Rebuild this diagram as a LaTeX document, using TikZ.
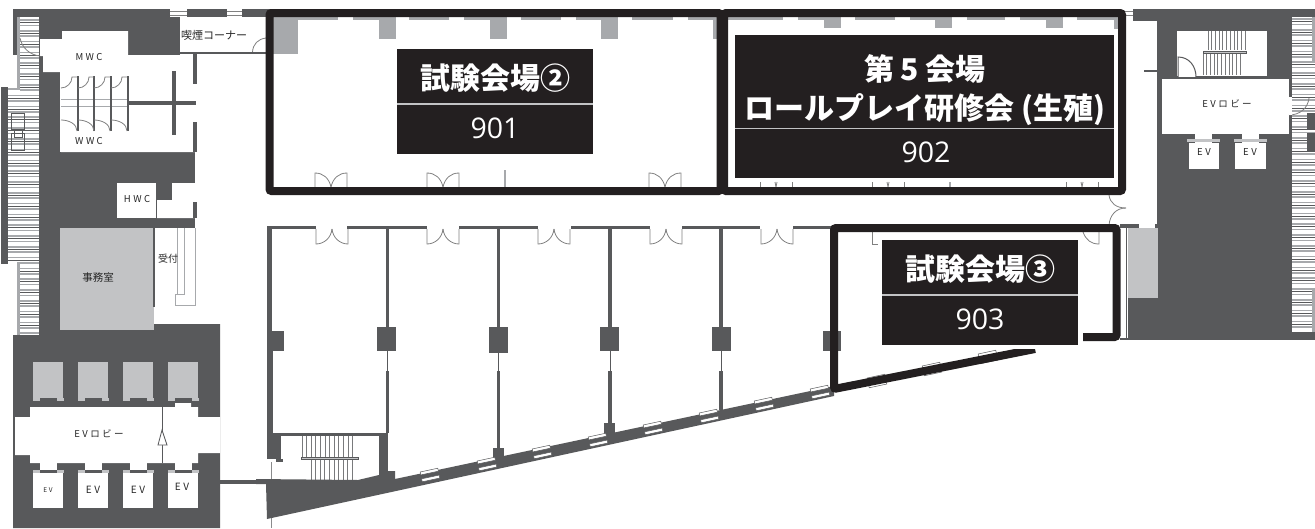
\documentclass[tikz,border=0pt]{standalone}
\usepackage{fontspec}
\setmainfont{Noto Sans CJK JP}
\newfontfamily\planfont[LetterSpace=26]{Noto Sans CJK JP}
\newfontfamily\numberfont{Open Sans}
\definecolor{wallgray}{HTML}{58595B}
\definecolor{roomgray}{HTML}{C2C3C5}
\definecolor{pillargray}{HTML}{A7A9AC}
\definecolor{signblack}{HTML}{231F20}

\begin{document}
\begin{tikzpicture}[x=1pt, y=-1pt]
    \tikzset{
        wall/.style={wallgray, line width=3.6},
        thinwall/.style={wallgray!70, line width=0.8},
        doorline/.style={gray, line width=0.8},
        venuebox/.style={signblack, line width=8, rounded corners=2},
        signtitle/.style={text=white, font=\bfseries\fontsize{30}{38.5}\selectfont, align=center},
        signnumber/.style={text=white, font=\numberfont\fontsize{28.5}{34}\selectfont},
        planlabel/.style={text=black!85, font=\planfont\fontsize{#1}{#1}\selectfont},
        planlabel/.default=9
    }
    \useasboundingbox (0, 0) rectangle (1315, 528);

    % solid parts of the floor
    \fill[wallgray] (13, 9) rectangle (180, 55);
    \fill[wallgray] (180, 9) rectangle (270, 17);
    \fill[wallgray] (39, 17) rectangle (60, 335);
    \fill[wallgray] (60, 152) rectangle (195, 228);
    \fill[wallgray] (13, 335) -- (60, 335) -- (60, 330) -- (154, 330) -- (154, 324) -- (220, 324)
        -- (220, 528) -- (13, 528) -- cycle;
    \fill[wallgray] (1133, 9) rectangle (1315, 17);
    \fill[wallgray] (1157, 17) rectangle (1292, 332);
    \fill[wallgray] (1133, 17) rectangle (1157, 21);
    \fill[wallgray] (1128, 298) rectangle (1157, 340);
    \fill[wallgray] (1157, 332) rectangle (1315, 340);

    % rooms left open in them
    \fill[white] (40, 39) -- (62, 39) -- (62, 31) -- (128, 31) -- (128, 55) -- (195, 55) -- (195, 152)
        -- (61, 152) -- (61, 72) -- (43, 72) -- (43, 56) -- (40, 56) -- cycle;
    \fill[white] (180, 18) rectangle (266, 52);
    \fill[white] (117, 183) rectangle (156, 218);
    \fill[white] (157, 200) -- (172, 200) -- (172, 183) -- (195, 183) -- (195, 218) -- (157, 218) -- cycle;
    \fill[roomgray] (60, 228) rectangle (154, 330);
    \fill[white] (15, 417) -- (30, 417) -- (30, 407) -- (175, 407) -- (175, 403) -- (191, 403)
        -- (191, 407) -- (198, 407) -- (198, 417) -- (220, 417) -- (220, 453) -- (198, 453)
        -- (198, 463) -- (30, 463) -- (30, 455) -- (15, 455) -- cycle;
    \fill[white] (1177, 31) rectangle (1267, 76);
    \fill[white] (1162, 79) rectangle (1289, 134);
    \fill[white] (1189, 143) rectangle (1219, 169);
    \fill[white] (1235, 143) rectangle (1266, 169);
    \fill[white] (1195, 134) rectangle (1212, 143);
    \fill[white] (1242, 134) rectangle (1259, 143);
    \fill[roomgray] (1128, 228) rectangle (1158, 298);

    % lift shafts
    \foreach \x in {33, 78, 123, 168} {
        \fill[roomgray] (\x, 362) rectangle (\x+30, 398);
        \fill[white] (\x, 473) rectangle (\x+30, 508);
        \fill[white] (\x+7, 463) rectangle (\x+24, 470);
        \fill[roomgray] (\x, 398) rectangle (\x+7, 401);
        \fill[roomgray] (\x+24, 398) rectangle (\x+31, 401);
        \fill[roomgray] (\x, 470) rectangle (\x+7, 473);
        \fill[roomgray] (\x+24, 470) rectangle (\x+31, 473);
    }
    \foreach \x in {1188, 1235} {
        \fill[roomgray] (\x-1, 139) rectangle (\x+32, 142);
    }

    % outer stair hatching
    \fill[white] (20, 17) rectangle (39, 335);
    \fill[white] (8, 90) rectangle (39, 262);
    \fill[white] (1292, 17) rectangle (1315, 332);
    \foreach \y in {20, 25.4, ..., 334} {
        \draw[pillargray, line width=1.6] (20, \y) -- (39, \y);
    }
    \foreach \y in {22.7, 33.5, ..., 334} {
        \draw[wallgray, line width=1] (20, \y) -- (39, \y);
    }
    \foreach \y in {95.6, 101, ..., 262} {
        \draw[pillargray, line width=1.6] (8, \y) -- (20, \y);
    }
    \foreach \y in {98.3, 109.1, ..., 262} {
        \draw[wallgray, line width=1] (8, \y) -- (20, \y);
    }
    \foreach \y in {19, 24.4, ..., 332} {
        \draw[pillargray, line width=1.6] (1292, \y) -- (1315, \y);
    }
    \foreach \y in {21.7, 32.5, ..., 332} {
        \draw[wallgray, line width=1] (1292, \y) -- (1315, \y);
    }
    \fill[pillargray] (1312, 17) rectangle (1315, 62);
    \fill[pillargray] (1312, 290) rectangle (1315, 332);
    \fill[pillargray] (17, 17) rectangle (20, 90);
    \fill[pillargray] (8, 88) rectangle (20, 90);
    \fill[wallgray] (1, 87) rectangle (8, 264);
    \fill[pillargray] (17, 262) rectangle (20, 335);
    \foreach \a/\b in {113/129, 133/150} {
        \draw[wallgray, line width=0.7] (11, \a) rectangle (24, \b);
        \draw[fill=white, wallgray, line width=0.7] (1307, \a) rectangle (1315, \b);
    }
    \draw[wallgray, line width=0.7] (14, 129) rectangle (22, 137);

    % top windows
    \foreach \x/\w in {170/17, 227/15, 1125/8} {
        \fill[white] (\x, 9) rectangle (\x+\w, 17);
        \draw[gray, line width=1] (\x, 11) -- (\x+\w, 11);
        \draw[gray, line width=1] (\x, 15) -- (\x+\w, 15);
    }

    % toilets
    \draw[wall] (195, 54) -- (195, 84);
    \draw[wall] (195, 122) -- (195, 152);
    \draw[wall] (195, 202) -- (195, 218);
    \draw[wall] (128, 103) -- (196, 103);
    \draw[wall, line width=3.8] (174, 71) -- (174, 135);
    \draw[pillargray, line width=1] (61, 99) -- (128, 99);
    \draw[pillargray, line width=1] (61, 106) -- (128, 106);
    \foreach \x in {78, 94, 111, 128} {
        \draw[wallgray, line width=2] (\x, 76) -- (\x, 131);
    }
    \foreach \x in {61, 78, 94, 111} {
        \draw[doorline] (\x, 88) .. controls (\x+6, 88) and (\x+11, 83) .. (\x+11, 77) -- (\x+16, 77);
        \draw[doorline] (\x, 120) .. controls (\x+8, 120) and (\x+16, 124) .. (\x+16, 131);
    }
    \draw[doorline] (20, 38) .. controls (22, 48) and (30, 55) .. (40, 56);
    \draw[doorline] (252.5, 52) .. controls (253, 44) and (258, 39) .. (266, 38);
    \draw[wall, line width=2] (180, 53) -- (266, 53);

    % reception and office wall
    \draw[wall, line width=2] (154, 228) -- (154, 307);
    \draw[pillargray, line width=1] (177, 228) -- (177, 294) -- (184, 294) -- (184, 228);
    \draw[pillargray, line width=1] (177, 294) -- (175, 294) -- (175, 305) -- (195, 305) -- (195, 228);

    % lobby door with its arrow
    \draw[wallgray, line width=0.8] (162, 407) -- (162, 463);
    \draw[wallgray, fill=white, line width=0.8] (162, 430) -- (158, 445) -- (167, 445) -- cycle;

    % seminar rooms below the corridor
    \draw[wall] (267, 227.5) -- (316, 227.5);
    \draw[wall] (347, 227.5) -- (427, 227.5);
    \draw[wall] (459, 227.5) -- (538, 227.5);
    \draw[wall] (571, 227.5) -- (650, 227.5);
    \draw[wall] (682, 227.5) -- (760, 227.5);
    \draw[wall] (793, 227.5) -- (834, 227.5);
    \draw[wall, line width=5.5] (269.5, 226) -- (269.5, 331);
    \draw[wall, line width=5.5] (270, 351) -- (270, 372);
    \draw[wall, line width=6.5] (270, 372) -- (270, 434);
    \foreach \x in {316, 427, 538, 650, 761} {
        \draw[doorline] (\x, 229) -- (\x, 244) .. controls (\x+8, 244) and (\x+15, 238) .. (\x+16, 229);
        \draw[doorline] (\x+32, 229) -- (\x+32, 244) .. controls (\x+24, 244) and (\x+17, 238) .. (\x+16, 229);
    }
    \foreach \x/\a/\b/\l/\k in {387.5/327/351/433/377, 498.5/327/353/455/489, 610/327/351/425/600, 721/327/351/410/712} {
        \draw[wall] (\x, 228) -- (\x, \a);
        \fill[wallgray] (\k, \a) rectangle (\k+19, \b);
        \draw[wallgray, line width=1] (\x, \b) -- (\x, 371);
        \draw[wall] (\x, 371) -- (\x, \l);
    }
    \fill[wallgray] (267, 331) rectangle (284, 351);
    \fill[wallgray] (823, 331) rectangle (841, 351);
    \fill[wallgray] (493, 448) rectangle (504, 460);
    \fill[wallgray] (604, 423) rectangle (615, 435);

    % stair at the lower left
    \fill[wallgray] (267, 433) rectangle (388, 436);
    \fill[wallgray] (267, 434) rectangle (281, 459);
    \fill[wallgray] (276, 459) rectangle (283, 462);
    \fill[wallgray] (379, 434) rectangle (388, 480);
    \foreach \x in {302, 306.6, ..., 357} {
        \draw[wallgray!80, line width=0.8] (\x, 436) -- (\x, 457);
    }
    \foreach \x in {311, 315.6, ..., 357} {
        \draw[wallgray!80, line width=0.8] (\x, 460) -- (\x, 480);
    }
    \draw[wallgray, fill=roomgray, line width=0.7] (301, 457) rectangle (358, 459.5);
    \draw[thinwall] (271, 462) -- (271, 480);
    \draw[thinwall] (271, 518) -- (271, 528);
    \draw[wall] (220, 482) -- (266, 482);

    % sloping outer wall
    \fill[wallgray] (256, 479) -- (358, 480) -- (379, 475) -- (379, 471) -- (395, 471) -- (395, 479)
        -- (834, 386) -- (834, 396) -- (267, 519) -- (266, 484) -- (256, 484) -- cycle;
    \foreach \x/\y in {430/475, 487/464, 542/452, 598/440, 653/428, 709/416, 764/404, 820/392, 877/381, 932/369, 988/357} {
        \begin{scope}[shift={(\x, \y)}, rotate=12]
            \draw[wallgray, fill=white, line width=0.5] (-9, -5) rectangle (9, -2);
            \draw[wallgray, fill=white, line width=0.5] (-9, 2) rectangle (9, 5);
        \end{scope}
    }

    % lift lobby on the right
    \foreach \x in {1208, 1211.7, ..., 1245} {
        \draw[wallgray!80, line width=0.8] (\x, 31) -- (\x, 50);
    }
    \foreach \x in {1203, 1206.7, ..., 1241} {
        \draw[wallgray!80, line width=0.8] (\x, 54) -- (\x, 75);
    }
    \draw[wallgray, fill=roomgray, line width=0.7] (1203, 51) rectangle (1246, 53.5);
    \fill[white] (1178, 57) rectangle (1196, 77);
    \draw[wallgray, line width=1] (1178, 77) -- (1178, 57) .. controls (1189, 57) and (1196, 66) .. (1196, 77);
    \draw[doorline] (1289, 115) .. controls (1300, 115) and (1308, 108) .. (1309, 98);
    \fill[white] (1289, 97) rectangle (1292, 115);

    % corridor end on the right
    \draw[wall, line width=2] (1144, 70.5) -- (1157, 70.5);
    \draw[wall, line width=4.5] (1159.5, 70) -- (1159.5, 95);
    \draw[wall, line width=4.5] (1159.5, 116) -- (1159.5, 228);
    \draw[doorline] (1126, 208) .. controls (1116, 208) and (1110, 203) .. (1109, 195);
    \draw[doorline] (1126, 208) .. controls (1116, 208) and (1110, 215) .. (1109, 225);
    \draw[wall] (1120, 226) -- (1139, 226);
    \draw[wall] (1155, 226) -- (1158, 226);
    \draw[wallgray, line width=1.5] (1126.5, 226) -- (1126.5, 340);
    \fill[wallgray] (1120, 338) rectangle (1128, 340);

    % inside the two upper rooms
    \fill[pillargray] (270, 16) rectangle (1120, 20);
    \foreach \x in {338, 394, 449, 505.5, 561, 617, 672.5, 783, 840, 895, 952, 1005, 1062} {
        \fill[white] (\x, 16.5) rectangle (\x+15, 19.5);
    }
    \fill[pillargray] (273, 16) rectangle (298, 54);
    \foreach \x in {379, 490, 601} {
        \fill[pillargray] (\x, 16) rectangle (\x+17, 39);
    }
    \foreach \x in {824, 935, 1046} {
        \fill[pillargray] (\x, 16) rectangle (\x+17, 28);
    }
    \fill[pillargray] (713, 16) rectangle (718, 39);
    \fill[pillargray] (1114, 16) rectangle (1118, 29);
    \draw[pillargray, line width=2] (505, 170) -- (505, 187);
    \foreach \x in {315, 427, 649} {
        \draw[doorline] (\x, 187) -- (\x, 173) .. controls (\x+8, 173) and (\x+14, 178) .. (\x+16, 187);
        \draw[doorline] (\x+32, 187) -- (\x+32, 173) .. controls (\x+24, 173) and (\x+18, 178) .. (\x+16, 187);
    }
    \foreach \x in {760, 872, 1066} {
        \draw[doorline] (\x, 187) -- (\x, 182);
        \draw[doorline] (\x+32, 187) -- (\x+32, 182);
        \draw[doorline] (\x+15, 182) -- (\x+16, 187) -- (\x+17, 182);
    }
    \draw[pillargray, line width=1.5] (950, 182) -- (950, 187);
    \draw[doorline] (872, 232) -- (872, 244) -- (878, 244);
    \draw[doorline] (1099, 232) -- (1099, 244) .. controls (1091, 244) and (1086, 240) .. (1083, 232);

    % venue frames
    \draw[venuebox] (269.5, 13) rectangle (720.5, 191);
    \draw[venuebox] (724, 13) rectangle (1122, 191);
    \draw[venuebox] (1083, 337) -- (1116.5, 337) -- (1116.5, 228) -- (834, 228) -- (834, 389) -- (1035, 349);

    % signs
    \fill[white] (880, 238) rectangle (1083, 349);
    \fill[signblack] (397, 49) rectangle (593, 154);
    \fill[signblack] (735, 35) rectangle (1114, 178);
    \fill[signblack] (882, 240) rectangle (1078, 345);
    \draw[roomgray, line width=1.6] (397, 104) -- (593, 104);
    \draw[roomgray, line width=1.6] (735, 128.5) -- (1114, 128.5);
    \draw[roomgray, line width=1.6] (882, 295) -- (1078, 295);
    \node[signtitle] (title901) at (495, 78) {試験会場②};
    \node[signnumber] (number901) at (495, 128) {901};
    \node[signtitle] (title902) at (925, 90) {第 5 会場\\ロールプレイ研修会 (生殖)};
    \node[signnumber] (number902) at (926, 152) {902};
    \node[signtitle] (title903) at (980, 269) {試験会場③};
    \node[signnumber] (number903) at (980, 319) {903};

    % room names
    \node[planlabel=9.5] (mwc) at (89, 57) {MWC};
    \node[planlabel=9.5] (wwc) at (89, 141) {WWC};
    \node[planlabel=9.5] (hwc) at (137, 199) {HWC};
    \node[planlabel=11, font=\fontsize{11}{11}\selectfont] (smoking) at (214, 35) {喫煙コーナー};
    \node[planlabel=10, font=\fontsize{10}{10}\selectfont] (reception) at (168, 259) {受付};
    \node[planlabel=10.5, font=\fontsize{10.5}{10.5}\selectfont] (office) at (98, 278) {事務室};
    \node[planlabel=9.5] (lobbyleft) at (99, 434) {EVロビー};
    \node[planlabel=9.5] (lobbyright) at (1227, 104) {EVロビー};
    \node[planlabel=6.5] (evone) at (48, 490) {EV};
    \node[planlabel=10] (evtwo) at (93, 490) {EV};
    \node[planlabel=10] (evthree) at (138, 490) {EV};
    \node[planlabel=10] (evfour) at (182, 487) {EV};
    \node[planlabel=9.5] (evfive) at (1204, 152) {EV};
    \node[planlabel=9.5] (evsix) at (1250, 152) {EV};
\end{tikzpicture}
\end{document}
